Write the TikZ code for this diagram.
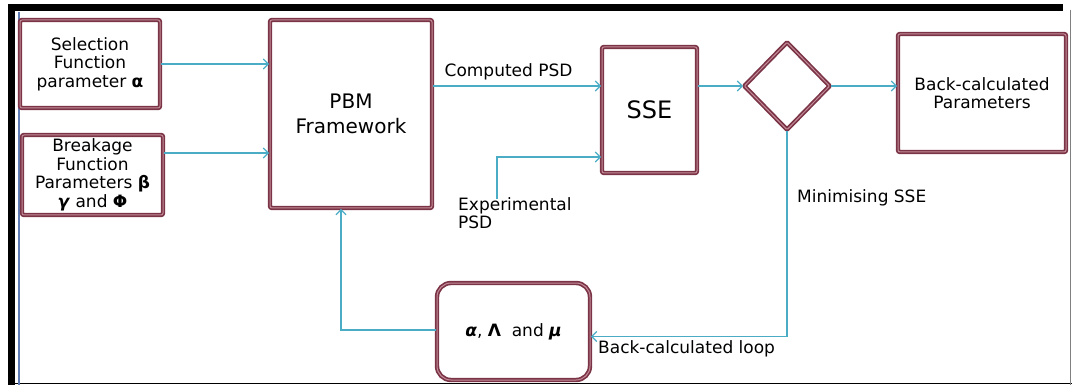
\documentclass[tikz,border=0pt]{standalone}
\usepackage{fontspec}
\setmainfont{DejaVu Sans}
\usetikzlibrary{arrows.meta,shapes.geometric}
\definecolor{boxred}{RGB}{122,52,70}
\definecolor{boxpink}{RGB}{196,140,154}
\definecolor{flowblue}{RGB}{75,172,198}
\definecolor{rulerblue}{RGB}{95,125,180}

\begin{document}
\begin{tikzpicture}[x=1pt,y=-1pt,
		font=\fontsize{17}{18.5}\selectfont,
		block/.style={draw=boxred, double=boxpink, line width=1.7pt, double distance=1pt, rounded corners=2pt, align=center, inner sep=2pt},
		flow/.style={draw=flowblue, line width=1.3pt, -{Straight Barb[length=5pt,width=10pt]}},
		lbl/.style={inner sep=0pt, anchor=west}]
		\useasboundingbox (0,0) rectangle (1072,385);

		% page frame
		\fill[black] (8,4) rectangle (1063,11);
		\fill[black] (8,4) rectangle (15,385);
		\draw[black, line width=1.5pt] (8,383.5) -- (1072,383.5);
		\draw[gray, line width=1pt] (1070,10) -- (1070,385);
		\draw[rulerblue, line width=2pt] (19,12) -- (19,385);

		\node[block, minimum width=140pt, minimum height=88pt] (sel) at (90,64) {Selection\\Function\\parameter \textbf{α}};
		\node[block, minimum width=141pt, minimum height=80pt] (brk) at (92.5,175) {Breakage\\Function\\Parameters \textbf{β}\\\textbf{\textit{γ}} and \textbf{Φ}};
		\node[block, minimum width=162pt, minimum height=188pt, font=\fontsize{20}{25}\selectfont] (pbm) at (351,114) {PBM\\Framework};
		\node[block, minimum width=95pt, minimum height=126pt, font=\fontsize{24}{28}\selectfont] (sse) at (649.5,110) {SSE};
		\node[block, diamond, minimum width=86pt, minimum height=88pt, inner sep=0pt, rounded corners=1pt] (dec) at (787,86) {};
		\node[block, minimum width=168pt, minimum height=118pt] (back) at (982,93) {Back-calculated\\Parameters};
		\node[block, rounded corners=14pt, minimum width=153pt, minimum height=97pt] (par) at (513.5,331.5) {\textbf{\textit{α}}, \textbf{Λ}\ \ and \textbf{\textit{μ}}};

		\node[lbl, anchor=north west, align=left] (exp) at (458,197) {Experimental\\PSD};
		\node[lbl] (minlbl) at (797,198) {Minimising SSE};
		\node[lbl] (looplbl) at (598,349) {Back-calculated loop};

		\coordinate (brkout) at ([yshift=22pt]brk.east);
		\coordinate (pbmout) at ([yshift=28pt]pbm.east);
		\coordinate (expin) at ([yshift=-47pt]sse.west);
		\coordinate (expfoot) at (497,199);
		\coordinate (loopin) at ([yshift=-5pt]par.east);
		\coordinate (pbmin) at ([xshift=-10pt]pbm.south);

		\draw[flow] (sel.east) -- (sel.east -| pbm.west);
		\draw[flow] (brkout) -- (brkout -| pbm.west);
		\draw[flow] (pbmout) -- node[above, pos=0.45, yshift=2pt] {Computed PSD} (pbmout -| sse.west);
		\draw[flow] (expfoot) |- (expin);
		\draw[flow] (sse.east |- dec.west) -- (dec.west);
		\draw[flow] (dec.east) -- (dec.east -| back.west);
		\draw[flow] (dec.south) |- (loopin);
		\draw[flow] ([yshift=1.5pt]par.west) -| (pbmin);
	\end{tikzpicture}
\end{document}
